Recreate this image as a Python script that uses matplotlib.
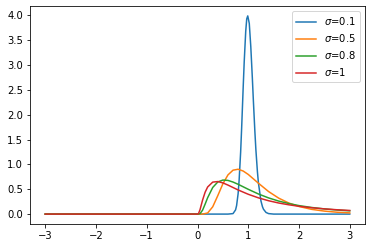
import matplotlib
matplotlib.use("Agg")
import matplotlib.pyplot as plt

# values (x from -3 to 3, zero for x <= 0)
x_s01 = [-3.0, 0.0, 0.6, 0.7, 0.75, 0.77, 0.8, 0.82, 0.85, 0.87, 0.9, 0.92,
         0.95, 0.97, 0.99, 1.02, 1.05, 1.08, 1.1, 1.13, 1.15, 1.18, 1.2, 1.25,
         1.28, 1.3, 1.35, 1.4, 1.5, 3.0]
y_s01 = [0.0, 0.0, 0.0, 0.01, 0.085, 0.17, 0.41, 0.68, 1.25, 1.74, 2.55, 3.06,
         3.68, 3.93, 3.99, 3.84, 3.37, 2.75, 2.30, 1.67, 1.30, 0.86, 0.63, 0.265,
         0.148, 0.098, 0.033, 0.01, 0.0, 0.0]

x_s05 = [-3.0, 0.0, 0.1, 0.2, 0.3, 0.4, 0.5, 0.6, 0.7, 0.8, 0.9, 1.0, 1.2,
         1.4, 1.6, 1.8, 2.0, 2.25, 2.5, 2.75, 3.0]
y_s05 = [0.0, 0.0, 0.0, 0.022, 0.147, 0.372, 0.61, 0.789, 0.884, 0.903, 0.867,
         0.798, 0.622, 0.454, 0.321, 0.222, 0.153, 0.095, 0.06, 0.0375, 0.024]

x_s08 = [-3.0, 0.0, 0.05, 0.1, 0.15, 0.2, 0.3, 0.4, 0.5, 0.6, 0.7, 0.8, 1.0,
         1.2, 1.4, 1.6, 1.8, 2.0, 2.25, 2.5, 2.75, 3.0]
y_s08 = [0.0, 0.0, 0.009, 0.079, 0.2, 0.33, 0.536, 0.647, 0.685, 0.678, 0.645,
         0.6, 0.499, 0.405, 0.326, 0.262, 0.212, 0.171, 0.133, 0.104, 0.082, 0.065]

x_s1 = [-3.0, 0.0, 0.02, 0.05, 0.1, 0.15, 0.2, 0.3, 0.4, 0.5, 0.6, 0.7, 0.8,
        1.0, 1.2, 1.4, 1.6, 1.8, 2.0, 2.25, 2.5, 2.75, 3.0]
y_s1 = [0.0, 0.0, 0.0095, 0.09, 0.282, 0.44, 0.546, 0.644, 0.655, 0.628,
        0.584, 0.535, 0.486, 0.399, 0.327, 0.269, 0.223, 0.187, 0.157, 0.128,
        0.105, 0.087, 0.073]

labels = [r"$\sigma$=0.1", r"$\sigma$=0.5", r"$\sigma$=0.8", r"$\sigma$=1"]

fig = plt.figure(figsize=(372 / 72, 248 / 72), dpi=72)
ax = fig.add_axes([30 / 372, 24 / 248, 335 / 372, 218 / 248])

ax.plot(x_s01, y_s01, label=labels[0])
ax.plot(x_s05, y_s05, label=labels[1])
ax.plot(x_s08, y_s08, label=labels[2])
ax.plot(x_s1, y_s1, label=labels[3])
ax.legend()

fig.savefig("out.png", dpi=72)
